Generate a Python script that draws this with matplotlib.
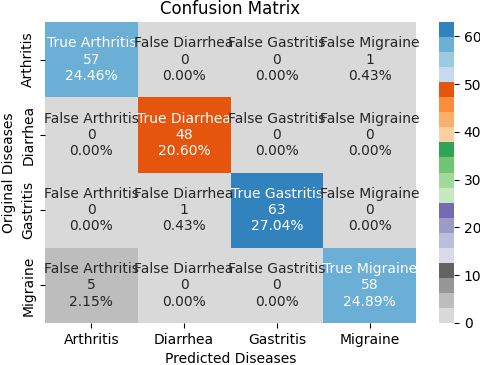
import numpy as np
import matplotlib
matplotlib.use("Agg")
import matplotlib.pyplot as plt
import seaborn as sns

classes = ["Arthritis", "Diarrhea", "Gastritis", "Migraine"]
counts = [[57, 0, 0, 1],
          [0, 48, 0, 0],
          [0, 1, 63, 0],
          [5, 0, 0, 58]]

cm = np.array(counts)
total = cm.sum()
labels = []
for i in range(len(classes)):
    row = []
    for j in range(len(classes)):
        kind = "True" if i == j else "False"
        row.append(f"{kind} {classes[j]}\n{cm[i, j]}\n{cm[i, j] / total * 100:.2f}%")
    labels.append(row)
labels = np.array(labels)

W, H = 480, 365
fig = plt.figure(figsize=(W / 100, H / 100), dpi=100)
ax = fig.add_axes([45 / W, 1 - 323 / H, 371 / W, 301 / H])
cax = fig.add_axes([439 / W, 1 - 323 / H, 15 / W, 301 / H])
sns.heatmap(cm, annot=labels, fmt="", cmap="tab20c_r", ax=ax, cbar_ax=cax,
            xticklabels=classes, yticklabels=classes, annot_kws={"fontsize": 10})
ax.set_title("Confusion Matrix", fontsize=12)
ax.set_xlabel("Predicted Diseases")
ax.set_ylabel("Original Diseases")
fig.savefig("out.png", dpi=100)
